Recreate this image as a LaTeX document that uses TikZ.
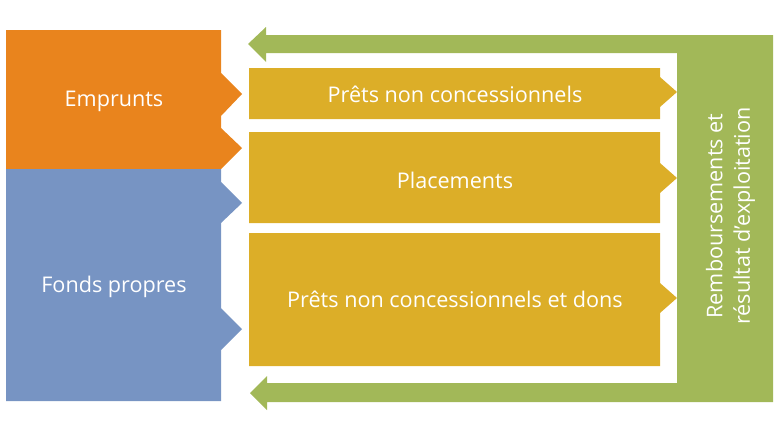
\documentclass[tikz,border=0pt]{standalone}
\usepackage{fontspec}
\setmainfont{Open Sans}
\usetikzlibrary{positioning}
\definecolor{empcol}{HTML}{E9841D}
\definecolor{fondscol}{HTML}{7794C3}
\definecolor{pretcol}{HTML}{DCAE28}
\definecolor{retcol}{HTML}{A2B858}

\begin{document}
\begin{tikzpicture}[
  x=1pt,y=-1pt,
  lbl/.style={text=white,font=\fontsize{21.6}{27.5}\selectfont,inner sep=0pt}
]
  \useasboundingbox (0,0) rectangle (780,439);

  % retour : remboursements
  \fill[retcol] (773,35) -- (266,35) -- (266,27) -- (248,44) -- (266,62) -- (266,53)
    -- (677,53) -- (677,383) -- (267,383) -- (267,376) -- (250,393) -- (267,410)
    -- (267,402) -- (773,402) -- cycle;

  % ressources
  \fill[empcol] (6,30) -- (221,30) -- (221,73) -- (242,94) -- (221,116) -- (221,128)
    -- (242,148) -- (221,169) -- (6,169) -- cycle;
  \fill[fondscol] (6,169) -- (221,169) -- (221,182) -- (242,203) -- (221,223)
    -- (221,308) -- (242,329) -- (221,350) -- (221,401) -- (6,401) -- cycle;

  % emplois
  \fill[pretcol] (249,68) -- (660,68) -- (660,77) -- (677,92) -- (660,107)
    -- (660,119) -- (249,119) -- cycle;
  \fill[pretcol] (249,132) -- (660,132) -- (660,163) -- (677,178) -- (660,193)
    -- (660,223) -- (249,223) -- cycle;
  \fill[pretcol] (249,233) -- (660,233) -- (660,283) -- (677,298) -- (660,313)
    -- (660,366) -- (249,366) -- cycle;

  \node[lbl] (emp) at (114,101.5) {Emprunts};
  \node[lbl] (fp) at (114,286.5) {Fonds propres};
  \node[lbl] (pnc) at (455,94) {Prêts non concessionnels};
  \node[lbl] (plc) at (455,180) {Placements};
  \node[lbl] (pncd) at (455,299) {Prêts non concessionnels et dons};
  \node[lbl,align=center,rotate=90] (remb) at (730.5,216)
    {Remboursements et\\résultat d’exploitation};
\end{tikzpicture}
\end{document}
